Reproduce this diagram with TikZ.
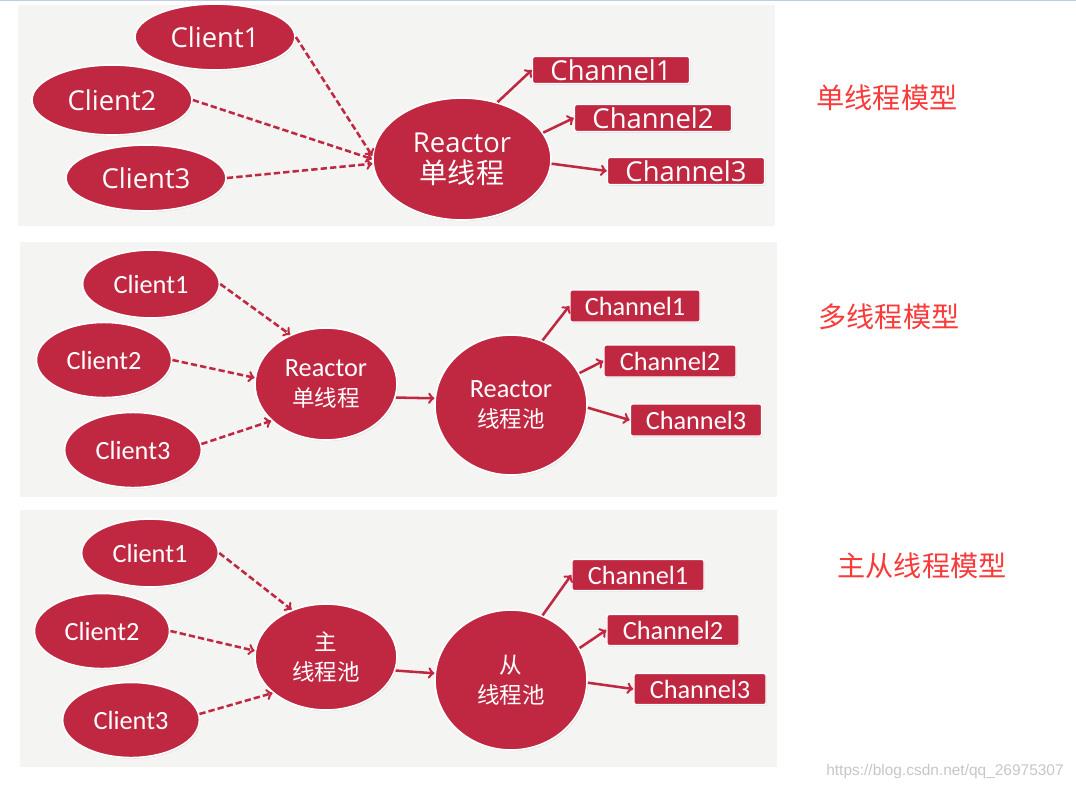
\documentclass[tikz,border=0pt]{standalone}
\usepackage{fontspec}
\setmainfont{Carlito}
\newfontfamily\cjk{Noto Sans CJK SC}
\newfontfamily\wide{Open Sans}
\newfontfamily\markfont{Liberation Sans}
\usetikzlibrary{shapes.geometric,shadows}

\definecolor{nodered}{RGB}{192,40,66}
\definecolor{panelgray}{RGB}{244,244,242}
\definecolor{titlered}{RGB}{248,58,58}
\definecolor{toplineblue}{RGB}{190,205,230}

\tikzset{
  panel/.style={fill=panelgray, draw=none},
  rednode/.style={fill=nodered, draw=white, line width=1.2pt, text=white, inner sep=0pt,
    drop shadow={opacity=0.25, shadow xshift=0.6pt, shadow yshift=-0.8pt}},
  client/.style={rednode, ellipse},
  reactor/.style={rednode, ellipse, align=center},
  chan/.style={rednode, rectangle, rounded corners=1.5pt, line width=1pt},
  req/.style={draw=nodered, line width=1.8pt, dash pattern=on 4.5pt off 2.2pt, ->},
  dispatch/.style={draw=nodered, line width=1.8pt, ->},
  title/.style={text=titlered, font=\cjk\fontsize{20}{24}\selectfont},
  bigfont/.style={font=\wide\fontsize{19.5}{22}\selectfont},
  smallfont/.style={font=\fontsize{18.7}{21}\selectfont}
}

\begin{document}
\begin{tikzpicture}[x=0.025cm, y=-0.025cm]
  \useasboundingbox (0,0) rectangle (1076,789);
  \fill[white] (0,0) rectangle (1076,789);
  \fill[toplineblue] (0,0) rectangle (1076,1.5);

  % three grey panels
  \fill[panel] (18,5) rectangle (775,226);
  \fill[panel] (20,242) rectangle (777,497);
  \fill[panel] (20,510) rectangle (777,767);

  % single thread model
  \node[client, bigfont, minimum width=4cm, minimum height=1.65cm] (ca1) at (215,37) {Client1};
  \node[client, bigfont, minimum width=4cm, minimum height=1.75cm] (ca2) at (112,100) {Client2};
  \node[client, bigfont, minimum width=4cm, minimum height=1.65cm] (ca3) at (146,178) {Client3};
  \node[reactor, bigfont, minimum width=4.45cm, minimum height=3.05cm] (ra) at (462,159)
    {Reactor\\{\cjk\fontsize{20}{22}\selectfont 单线程}};
  \node[chan, bigfont, minimum width=3.925cm, minimum height=0.675cm] (cha1) at (611,70) {Channel1};
  \node[chan, bigfont, minimum width=3.925cm, minimum height=0.675cm] (cha2) at (653,118) {Channel2};
  \node[chan, bigfont, minimum width=3.925cm, minimum height=0.675cm] (cha3) at (686,171) {Channel3};
  \draw[req] (ca1.east) -- (ra.178);
  \draw[req] (ca2.east) -- (ra.180);
  \draw[req] (ca3.east) -- (ra.183);
  \draw[dispatch] (ra.58) -- (cha1.west);
  \draw[dispatch] (ra.18) -- (cha2.west);
  \draw[dispatch] (ra.-3) -- (cha3.west);
  \node[title] (ta) at (887,98) {单线程模型};

  % multi thread model
  \node[client, smallfont, minimum width=3.42cm, minimum height=1.7cm] (cb1) at (151,284) {Client1};
  \node[client, smallfont, minimum width=3.38cm, minimum height=1.88cm] (cb2) at (104,360) {Client2};
  \node[client, smallfont, minimum width=3.42cm, minimum height=1.88cm] (cb3) at (133,450) {Client3};
  \node[reactor, smallfont, minimum width=3.55cm, minimum height=2.8cm] (rb) at (326,384)
    {Reactor\\{\cjk\fontsize{16}{21}\selectfont 单线程}};
  \node[reactor, smallfont, minimum width=3.8cm, minimum height=3.5cm] (pb) at (511,405)
    {Reactor\\{\cjk\fontsize{16}{21}\selectfont 线程池}};
  \node[chan, smallfont, minimum width=3.25cm, minimum height=0.8cm] (chb1) at (635,306) {Channel1};
  \node[chan, smallfont, minimum width=3.3cm, minimum height=0.8cm] (chb2) at (670,361) {Channel2};
  \node[chan, smallfont, minimum width=3.28cm, minimum height=0.8cm] (chb3) at (696,420) {Channel3};
  \draw[req] (cb1.east) -- (rb.126);
  \draw[req] (cb2.east) -- (rb.175);
  \draw[req] (cb3.5) -- (rb.214);
  \draw[dispatch] (rb.-11) -- (pb.175);
  \draw[dispatch] (pb.64) -- (chb1.west);
  \draw[dispatch] (pb.25) -- (chb2.west);
  \draw[dispatch] (pb.-2) -- (chb3.west);
  \node[title] (tb) at (889,317) {多线程模型};

  % master slave model
  \node[client, smallfont, minimum width=3.42cm, minimum height=1.7cm] (cc1) at (150,553) {Client1};
  \node[client, smallfont, minimum width=3.38cm, minimum height=1.88cm] (cc2) at (102,631) {Client2};
  \node[client, smallfont, minimum width=3.42cm, minimum height=1.88cm] (cc3) at (131,720) {Client3};
  \node[reactor, font=\cjk\fontsize{16}{21}\selectfont, minimum width=3.55cm, minimum height=2.65cm] (rc) at (326,657)
    {主\\线程池};
  \node[reactor, font=\cjk\fontsize{16}{21}\selectfont, minimum width=3.8cm, minimum height=3.5cm] (pc) at (511,680)
    {从\\线程池};
  \node[chan, smallfont, minimum width=3.3cm, minimum height=0.78cm] (chc1) at (638,575) {Channel1};
  \node[chan, smallfont, minimum width=3.3cm, minimum height=0.78cm] (chc2) at (673,630) {Channel2};
  \node[chan, smallfont, minimum width=3.3cm, minimum height=0.78cm] (chc3) at (700,689) {Channel3};
  \draw[req] (cc1.east) -- (rc.126);
  \draw[req] (cc2.east) -- (rc.175);
  \draw[req] (cc3.5) -- (rc.214);
  \draw[dispatch] (rc.-11) -- (pc.175);
  \draw[dispatch] (pc.64) -- (chc1.west);
  \draw[dispatch] (pc.25) -- (chc2.west);
  \draw[dispatch] (pc.-2) -- (chc3.west);
  \node[title] (tc) at (922,566) {主从线程模型};

  \node[text=black!22, font=\markfont\fontsize{11}{13}\selectfont] (mark) at (945,771) {https://blog.csdn.net/qq\_26975307};
\end{tikzpicture}
\end{document}
